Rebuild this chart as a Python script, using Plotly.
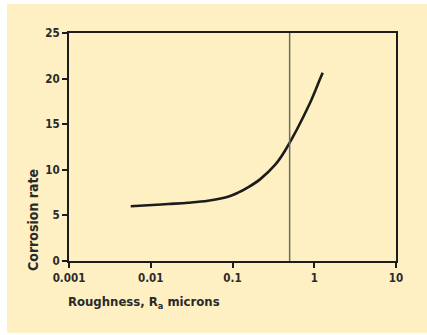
import plotly.graph_objects as go

roughness = [0.00569, 0.00925, 0.01626, 0.02855, 0.05016, 0.0881, 0.1168, 0.1547, 0.2170,
             0.3311, 0.4386, 0.8870, 1.1757, 1.2688]
corrosion = [6.00, 6.11, 6.25, 6.39, 6.61, 7.05, 7.49, 8.08, 8.95,
             10.53, 12.09, 17.32, 19.95, 20.65]
marker_x = [0.5]
x_ticks = [0.001, 0.01, 0.1, 1, 10]
x_tick_labels = ["0.001", "0.01", "0.1", "1", "10"]
y_ticks = [0, 5, 10, 15, 20, 25]

FONT = "DejaVu Sans Condensed, Liberation Sans Narrow, sans-serif"

fig = go.Figure()
fig.add_trace(go.Scatter(x=roughness, y=corrosion, mode="lines",
                         line=dict(color="#1c1c1c", width=2.6, shape="spline", smoothing=1.0),
                         showlegend=False, hoverinfo="skip"))
for xv in marker_x:
    fig.add_trace(go.Scatter(x=[xv, xv], y=[0, 25], mode="lines",
                             line=dict(color="#6a6a6a", width=1.5),
                             showlegend=False, hoverinfo="skip"))

fig.update_layout(
    width=427, height=335,
    margin=dict(l=69, r=31, t=33, b=74),
    paper_bgcolor="white", plot_bgcolor="rgba(0,0,0,0)",
    font=dict(family=FONT, size=12, color="#2a2a2a"),
    shapes=[dict(type="rect", xref="paper", yref="paper", layer="below",
                 x0=-62/327, x1=358/327, y0=(261-333)/228, y1=(261-4)/228,
                 fillcolor="#FEF0C2", line=dict(width=0))],
    xaxis=dict(type="log", range=[-3, 1], tickvals=x_ticks, ticktext=x_tick_labels,
               showgrid=False, zeroline=False, showline=True, linecolor="#1c1c1c", linewidth=2.2,
               mirror=True, ticks="outside", ticklen=5, tickwidth=2.2, tickcolor="#1c1c1c",
               tickfont=dict(family=FONT, size=11.5, color="#2a2a2a", weight="bold")),
    yaxis=dict(range=[0, 25], tickvals=y_ticks,
               showgrid=False, zeroline=False, showline=True, linecolor="#1c1c1c", linewidth=2.2,
               mirror=True, ticks="outside", ticklen=5, tickwidth=2.2, tickcolor="#1c1c1c",
               tickfont=dict(family=FONT, size=11.5, color="#2a2a2a", weight="bold")),
    annotations=[
        dict(text="Roughness, R<sub>a</sub> microns", xref="paper", yref="paper",
             x=-3/327, y=(261-302)/228, xanchor="left", yanchor="middle", showarrow=False,
             font=dict(family=FONT, size=13, color="#2a2a2a", weight="bold")),
        dict(text="Corrosion rate", xref="paper", yref="paper", textangle=-90,
             x=-36/327, y=(261-220)/228, xanchor="center", yanchor="middle", showarrow=False,
             font=dict(family=FONT, size=14, color="#2a2a2a", weight="bold")),
    ],
)

fig.write_html("out.html", config={"displayModeBar": False},
               post_script="document.body.style.margin='0';document.body.style.padding='0';")
